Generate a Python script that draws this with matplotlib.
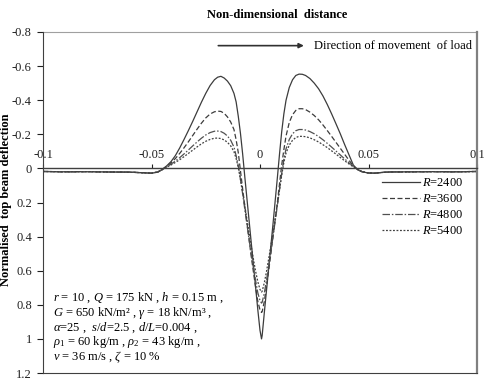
"""
Normalised top beam deflection vs non-dimensional distance
"""

import matplotlib
matplotlib.use('Agg')
import matplotlib.pyplot as plt
from matplotlib.ticker import FuncFormatter

plt.rcParams['font.family'] = ['Liberation Serif', 'DejaVu Serif']
plt.rcParams['axes.unicode_minus'] = False
plt.rcParams['mathtext.fontset'] = 'custom'
plt.rcParams['mathtext.rm'] = 'Liberation Serif'
plt.rcParams['mathtext.it'] = 'Liberation Serif:italic'

# 非量纲距离 (shared by all curves)
x = [-0.100, -0.090, -0.080, -0.070, -0.060, -0.055, -0.050,
     -0.047, -0.045, -0.043, -0.041, -0.039, -0.037, -0.035, -0.033, -0.031,
     -0.029, -0.027, -0.025, -0.023, -0.021,
     -0.0195, -0.018, -0.0165, -0.015, -0.0135, -0.012,
     -0.011, -0.010, -0.009, -0.008, -0.007, -0.006, -0.005, -0.004, -0.003,
     -0.002, -0.001,
     0.000, 0.0007,
     0.001, 0.002, 0.003, 0.004, 0.005, 0.006, 0.007, 0.008, 0.009, 0.010, 0.011,
     0.012, 0.0135, 0.015, 0.0165, 0.018, 0.0195,
     0.021, 0.023, 0.025, 0.027, 0.029, 0.031, 0.033, 0.035, 0.037, 0.039,
     0.041, 0.043, 0.045, 0.047,
     0.050, 0.053, 0.056, 0.060, 0.070, 0.080, 0.090, 0.100]

tail_left = [0.018, 0.020, 0.019, 0.021, 0.022, 0.025, 0.028]
tail_right = [0.027, 0.028, 0.024, 0.021, 0.020, 0.019, 0.020, 0.018]

r2400 = tail_left + [
    0.022, 0.005, -0.015, -0.040, -0.075, -0.120, -0.170, -0.222, -0.276,
    -0.332, -0.388, -0.440, -0.486, -0.520,
    -0.535, -0.540, -0.530, -0.512, -0.485, -0.440,
    -0.390, -0.305, -0.205, -0.085, 0.050, 0.180, 0.310, 0.440, 0.570, 0.700, 0.830,
    0.950, 1.000,
    0.980, 0.845, 0.715, 0.585, 0.455, 0.325, 0.190, 0.055, -0.085, -0.215, -0.320,
    -0.400, -0.475, -0.520, -0.545, -0.553, -0.552,
    -0.545, -0.527, -0.500, -0.467, -0.425, -0.375, -0.320, -0.262, -0.203, -0.140,
    -0.080, -0.020, 0.008, 0.020] + tail_right

r3600 = tail_left + [
    0.020, 0.006, -0.012, -0.033, -0.058, -0.088, -0.121, -0.156, -0.193,
    -0.230, -0.265, -0.296, -0.319, -0.332,
    -0.336, -0.334, -0.323, -0.302, -0.272, -0.228,
    -0.168, -0.092, 0.015, 0.120, 0.220, 0.320, 0.420, 0.520, 0.610, 0.700, 0.780,
    0.830, 0.845,
    0.840, 0.780, 0.690, 0.600, 0.500, 0.400, 0.300, 0.200, 0.090, -0.020, -0.110,
    -0.190, -0.270, -0.315, -0.340, -0.350, -0.350,
    -0.345, -0.330, -0.310, -0.285, -0.255, -0.222, -0.188, -0.153, -0.118, -0.083,
    -0.048, -0.015, 0.007, 0.019] + tail_right

r4800 = tail_left + [
    0.020, 0.007, -0.009, -0.025, -0.043, -0.063, -0.085, -0.108, -0.132,
    -0.155, -0.177, -0.196, -0.210, -0.218,
    -0.219, -0.216, -0.206, -0.190, -0.165, -0.125,
    -0.075, -0.015, 0.065, 0.150, 0.240, 0.330, 0.420, 0.505, 0.585, 0.660, 0.730,
    0.775, 0.790,
    0.785, 0.730, 0.655, 0.575, 0.490, 0.400, 0.310, 0.220, 0.125, 0.030, -0.055,
    -0.115, -0.170, -0.203, -0.221, -0.228, -0.228,
    -0.225, -0.216, -0.203, -0.187, -0.168, -0.147, -0.125, -0.102, -0.079, -0.056,
    -0.033, -0.012, 0.006, 0.019] + tail_right

r5400 = tail_left + [
    0.020, 0.008, -0.007, -0.020, -0.035, -0.051, -0.069, -0.088, -0.107,
    -0.126, -0.144, -0.159, -0.170, -0.177,
    -0.178, -0.175, -0.167, -0.153, -0.132, -0.098,
    -0.058, -0.005, 0.065, 0.140, 0.220, 0.300, 0.380, 0.460, 0.535, 0.605, 0.665,
    0.710, 0.725,
    0.720, 0.670, 0.605, 0.530, 0.455, 0.375, 0.290, 0.210, 0.125, 0.040, -0.035,
    -0.090, -0.137, -0.165, -0.181, -0.188, -0.188,
    -0.186, -0.179, -0.168, -0.155, -0.139, -0.122, -0.103, -0.084, -0.064, -0.045,
    -0.026, -0.009, 0.006, 0.019] + tail_right

labels = ['$R$=2400', '$R$=3600', '$R$=4800', '$R$=5400']
x_ticks = [-0.1, -0.05, 0, 0.05, 0.1]
y_ticks = [-0.8, -0.6, -0.4, -0.2, 0, 0.2, 0.4, 0.6, 0.8, 1, 1.2]

params_text = [
    '$r$ = 10 , $Q$ = 175 kN , $h$ = 0.15 m ,',
    '$G$ = 650 kN/m\u00b2 , $\\gamma$ = 18 kN/m\u00b3 ,',
    '$\\alpha$=25 ,  $s/d$=2.5 , $d/L$=0.004 ,',
    '$\\rho_1$ = 60 kg/m , $\\rho_2$ = 43 kg/m ,',
    '$v$ = 36 m/s , $\\zeta$ = 10 %',
]

fig = plt.figure(figsize=(4.85, 3.78), dpi=100)
ax = fig.add_axes([43 / 485, 5 / 378, 434 / 485, 341 / 378])

styles = [
    dict(color='#3c3c3c', linestyle='-', linewidth=0.9),
    dict(color='#3c3c3c', linestyle=(0, (4, 2)), linewidth=0.9),
    dict(color='#505050', linestyle=(0, (6, 1.5, 1.2, 1.5)), linewidth=0.9),
    dict(color='#404040', linestyle=(0, (1.5, 1.3)), linewidth=0.9),
]
for ys, lab, st in zip([r2400, r3600, r4800, r5400], labels, styles):
    ax.plot(x, ys, label=lab, **st)

ax.set_xlim(-0.1, 0.1)
ax.set_ylim(1.2, -0.8)

# x轴放在 y=0 处, 标签在上方
ax.xaxis.set_ticks_position('top')
ax.spines['top'].set_position(('data', 0))
ax.spines['top'].set_color('#404040')
ax.spines['top'].set_linewidth(1.0)
ax.set_xticks(x_ticks)
ax.xaxis.set_major_formatter(FuncFormatter(lambda v, p: '%g' % v))
ax.tick_params(axis='x', direction='out', length=3, width=0.8, pad=2,
               labelsize=9, colors='#202020')

ax.set_yticks(y_ticks)
ax.yaxis.set_major_formatter(FuncFormatter(lambda v, p: '%g' % v))
ax.tick_params(axis='y', direction='out', length=4, width=0.8, pad=4,
               labelsize=9, colors='#202020')

ax.spines['left'].set_color('#404040')
ax.spines['bottom'].set_color('#404040')
ax.spines['right'].set_color('#808080')
ax.spines['right'].set_linewidth(1.6)
# 外框上边
ax.plot([0, 1], [1, 1], transform=ax.transAxes, color='#a0a0a0',
        linewidth=0.8, clip_on=False)

fig.text(277 / 485, 1 - 15 / 378, 'Non-dimensional  distance',
         ha='center', va='center', fontsize=9, fontweight='bold')
fig.text(6 / 485, 1 - 200 / 378, 'Normalised  top beam deflection',
         ha='center', va='center', rotation=90, fontsize=9, fontweight='bold')

# 荷载移动方向
ax.annotate('', xy=(0.0215, -0.72), xytext=(-0.0205, -0.72),
            arrowprops=dict(arrowstyle='-|>', color='#303030', lw=1.2,
                            mutation_scale=7))
ax.text(0.0250, -0.72, 'Direction of movement  of load', ha='left',
        va='center', fontsize=9)

ax.legend(loc='center left', bbox_to_anchor=(0.78, 0.487), frameon=False,
          fontsize=9, handlelength=3.1, handletextpad=0.1, labelspacing=0.32,
          borderpad=0, borderaxespad=0)

for i, line in enumerate(params_text):
    ax.text((53 - 43) / 434, 1 - (298 - 32 + i * 14.7) / 341,
            line, transform=ax.transAxes, ha='left', va='center', fontsize=9)

fig.savefig('out.png', dpi=100)
